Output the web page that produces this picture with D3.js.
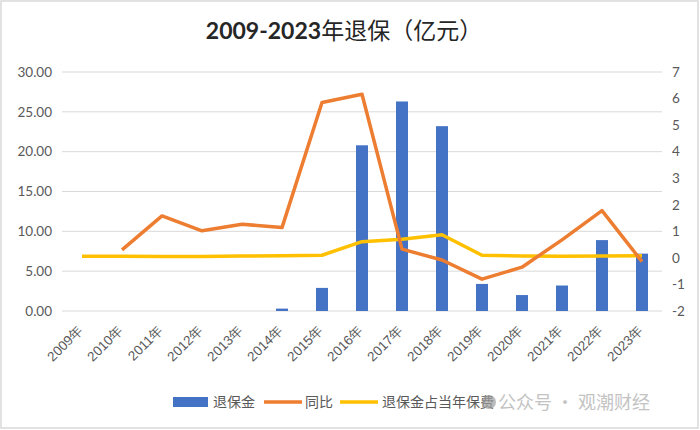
<!DOCTYPE html>
<html><head><meta charset="utf-8">
<script src="https://cdn.jsdelivr.net/npm/d3@7"></script>
<style>
body{margin:0;background:#fff;}
svg{display:block;font-family:"Noto Sans CJK SC","Noto Sans",sans-serif;}
</style></head>
<body><svg id="c" width="700" height="430"></svg>
<script>
const years = ["2009年","2010年","2011年","2012年","2013年","2014年","2015年","2016年","2017年","2018年","2019年","2020年","2021年","2022年","2023年"];
const surrender = [0,0,0,0,0,0.3,2.9,20.8,26.3,23.2,3.4,2.0,3.2,8.9,7.2];
const yoy = [null,0.3,1.58,1.02,1.27,1.14,5.85,6.16,0.33,-0.08,-0.8,-0.35,0.68,1.78,-0.14];
const share = [0.06,0.06,0.05,0.05,0.07,0.08,0.1,0.61,0.7,0.87,0.1,0.07,0.06,0.07,0.08];
const leftTicks = [0,5,10,15,20,25,30];
const rightTicks = [-2,-1,0,1,2,3,4,5,6,7];
const legendLabels = ["退保金","同比","退保金占当年保费"];

const svg = d3.select("#c");
svg.append("rect").attr("x",1).attr("y",1).attr("width",697).attr("height",427)
  .attr("fill","#fff").attr("stroke","#d9d9d9").attr("stroke-width",1.5);

const L=62, R=662, T=72, B=311;
const x = d3.scaleBand().domain(years).range([L,R]);
const yL = d3.scaleLinear().domain([0,30]).range([B,T]);
const yR = d3.scaleLinear().domain([-2,7]).range([B,T]);

// title
const title = svg.append("text").attr("x",344).attr("y",39).attr("text-anchor","middle")
  .attr("font-size",23).attr("fill","#262626");
title.append("tspan").attr("font-weight","bold").attr("font-family","Lato,'Noto Sans',sans-serif").text("2009-2023");
title.append("tspan").text("年退保（亿元）");

// gridlines
svg.append("g").selectAll("line").data(leftTicks).join("line")
  .attr("x1",L).attr("x2",R).attr("y1",d=>yL(d)).attr("y2",d=>yL(d))
  .attr("stroke","#d9d9d9").attr("stroke-width",1);

// left axis
const gl = svg.append("g").attr("transform",`translate(${L},0)`)
  .call(d3.axisLeft(yL).tickValues(leftTicks).tickFormat(d3.format(".2f")).tickSize(0).tickPadding(10));
gl.select(".domain").remove();
gl.selectAll("text").attr("font-size",13.5).attr("fill","#595959").attr("font-family","Lato,'Noto Sans',sans-serif");

// right axis
const gr = svg.append("g").attr("transform",`translate(${R},0)`)
  .call(d3.axisRight(yR).tickValues(rightTicks).tickFormat(d=>String(d)).tickSize(0).tickPadding(10));
gr.select(".domain").remove();
gr.selectAll("text").attr("font-size",13.5).attr("fill","#595959").attr("font-family","Lato,'Noto Sans',sans-serif");

// x axis
const gx = svg.append("g").attr("transform",`translate(0,${B})`)
  .call(d3.axisBottom(x).tickSize(0).tickPadding(0));
gx.select(".domain").remove();
gx.selectAll("text").attr("font-size",13.5).attr("fill","#595959")
  .attr("text-anchor","end").attr("dy",0)
  .attr("transform","translate(2,20) rotate(-45)");

// bars
const bw = 12;
svg.append("g").selectAll("rect").data(surrender.map((v,i)=>({y:years[i],v})).filter(d=>d.v>0)).join("rect")
  .attr("x",d=>x(d.y)+x.bandwidth()/2-bw/2).attr("width",bw)
  .attr("y",d=>yL(d.v)).attr("height",d=>B-yL(d.v)).attr("fill","#4472C4");

const cx = d=>x(d.y)+x.bandwidth()/2;
const line = d3.line().defined(d=>d.v!=null).x(cx).y(d=>yR(d.v));
svg.append("path").datum(share.map((v,i)=>({y:years[i],v})))
  .attr("d",line).attr("fill","none").attr("stroke","#FFC000").attr("stroke-width",3.5).attr("stroke-linejoin","round");
svg.append("path").datum(yoy.map((v,i)=>({y:years[i],v})))
  .attr("d",line).attr("fill","none").attr("stroke","#ED7D31").attr("stroke-width",3.5).attr("stroke-linejoin","round");

// legend
const ly = 402;
const lg = svg.append("g");
lg.append("rect").attr("x",173).attr("y",ly-5).attr("width",35).attr("height",10).attr("fill","#4472C4");
lg.append("text").attr("x",213).attr("y",ly+5).attr("font-size",14).attr("fill","#595959").text(legendLabels[0]);
lg.append("line").attr("x1",264).attr("x2",302).attr("y1",ly).attr("y2",ly).attr("stroke","#ED7D31").attr("stroke-width",3.5);
lg.append("text").attr("x",305).attr("y",ly+5).attr("font-size",14).attr("fill","#595959").text(legendLabels[1]);
lg.append("line").attr("x1",340).attr("x2",378).attr("y1",ly).attr("y2",ly).attr("stroke","#FFC000").attr("stroke-width",3.5);
lg.append("text").attr("x",382).attr("y",ly+5).attr("font-size",14).attr("fill","#595959").text(legendLabels[2]);

// watermark
svg.append("circle").attr("cx",489).attr("cy",ly).attr("r",7).attr("fill","#9e9e9e").attr("opacity",0.7);
svg.append("text").attr("x",498).attr("y",ly+6.5).attr("font-size",18).attr("fill","#bdbdbd").attr("opacity",0.9)
  .text("公众号 · 观潮财经");
</script></body></html>
